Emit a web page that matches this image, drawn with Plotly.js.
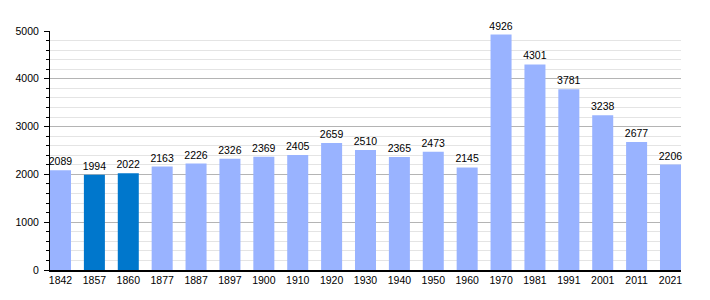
<!DOCTYPE html>
<html>
<head>
<meta charset="utf-8">
<script src="https://cdn.plot.ly/plotly-3.0.1.min.js"></script>
<style>html,body{margin:0;padding:0;background:#fff;}#chart{width:710px;height:300px;}</style>
</head>
<body>
<div id="chart"></div>
<script>
const years = ["1842","1857","1860","1877","1887","1897","1900","1910","1920","1930","1940","1950","1960","1970","1981","1991","2001","2011","2021"];
const population = [2089,1994,2022,2163,2226,2326,2369,2405,2659,2510,2365,2473,2145,4926,4301,3781,3238,2677,2206];
const highlighted = ["1857","1860"];

const lightBlue = "#99b3ff";
const darkBlue = "#0077cc";
const colors = years.map(y => highlighted.includes(y) ? darkBlue : lightBlue);

const trace = {
  type: "bar",
  x: years,
  y: population,
  marker: {color: colors, line: {width: 0}},
  text: population.map(String),
  textposition: "outside",
  constraintext: "none",
  cliponaxis: false,
  textfont: {family: "Liberation Sans, Arial, sans-serif", size: 10.5, color: "#000"},
  hoverinfo: "none"
};

const layout = {
  width: 710,
  height: 300,
  margin: {l: 50, r: 29, t: 31, b: 30},
  paper_bgcolor: "#fff",
  plot_bgcolor: "#fff",
  font: {family: "Liberation Sans, Arial, sans-serif", size: 10.5, color: "#000"},
  bargap: 0.38,
  showlegend: false,
  xaxis: {
    type: "category",
    range: [-0.31, 18.31],
    showgrid: false,
    showline: true,
    linecolor: "#000",
    linewidth: 1.5,
    ticks: "",
    tickfont: {size: 10.5},
    fixedrange: true
  },
  yaxis: {
    range: [0, 5000],
    dtick: 1000,
    showgrid: true,
    gridcolor: "#b4b4b4",
    gridwidth: 1,
    showline: true,
    linecolor: "#000",
    linewidth: 1,
    ticks: "outside",
    ticklen: 5,
    tickcolor: "#000",
    ticklabelstandoff: 3,
    tickfont: {size: 10.5},
    zeroline: false,
    minor: {dtick: 200, showgrid: true, gridcolor: "#e4e4e4", gridwidth: 1, ticks: "outside", ticklen: 3, tickcolor: "#000"},
    fixedrange: true
  }
};

Plotly.newPlot("chart", [trace], layout, {displayModeBar: false, staticPlot: true});
</script>
</body>
</html>
